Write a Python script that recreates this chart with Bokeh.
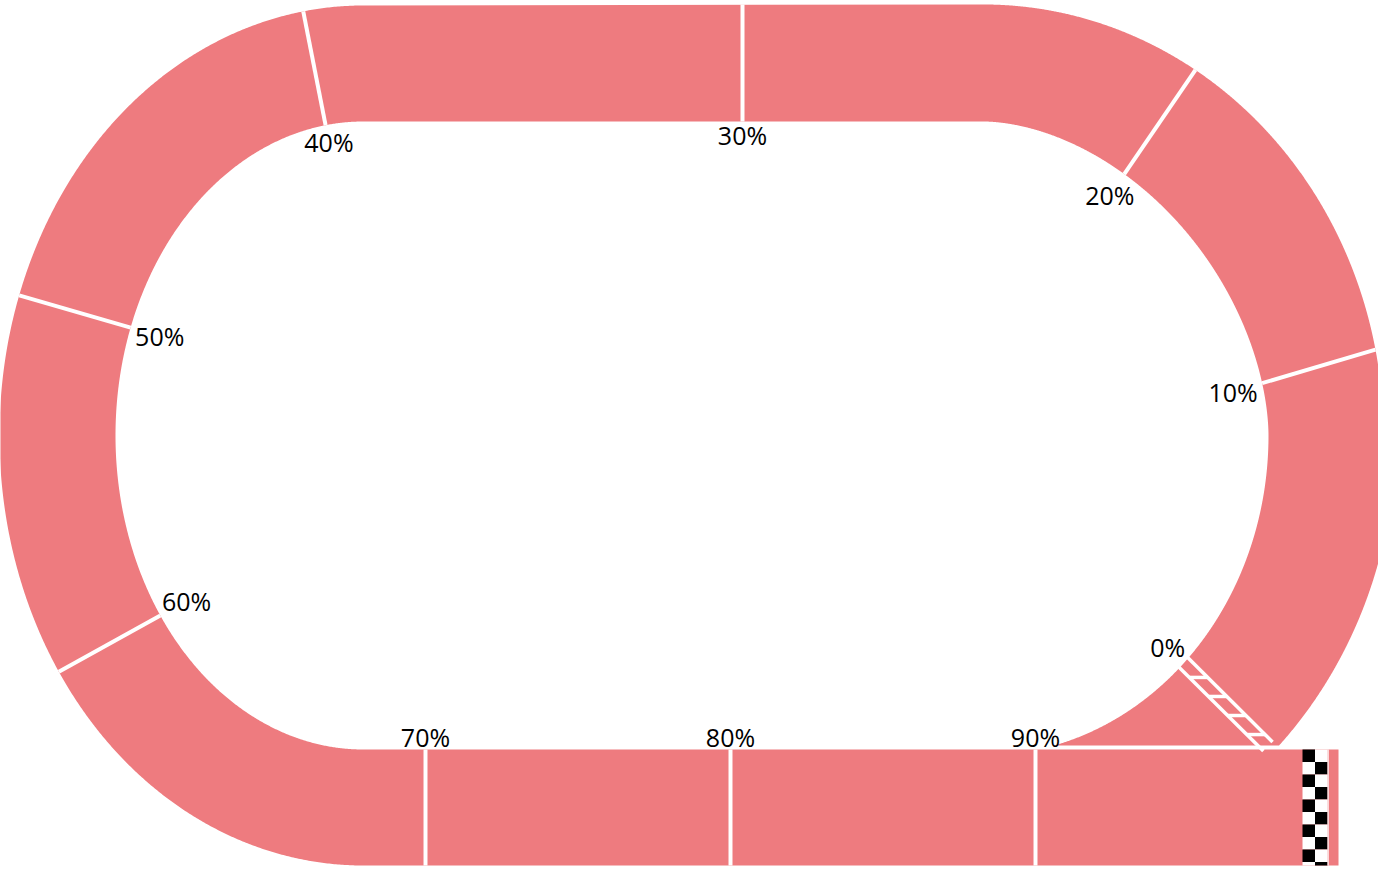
import numpy as np
from bokeh.plotting import figure
from bokeh.models import Range1d, ColumnDataSource
from bokeh.core.properties import value
from bokeh.embed import file_html
from bokeh.resources import INLINE

# ---------------- data ----------------
tick_values = [0, 10, 20, 30, 40, 50, 60, 70, 80, 90]
tick_labels = ["0%", "10%", "20%", "30%", "40%", "50%", "60%", "70%", "80%", "90%"]

# ---------------- track geometry (y grows downward) ----------------
W, H = 1378, 874
TRACK = "#EE7B7F"
FONT = "Open Sans"
FS = 25

LC = (363.0, 435.0); LA, LB = 248.0, 314.0; OFF = 116.0          # left bend
RC = (983.0, 435.0)                                              # right bend centre
RA_IN, RB_IN_UP, RB_IN_LO, RN = 285.0, 314.0, 320.0, 1.8         # right bend, inner
RA_OUT_UP, RB_OUT_UP, RA_OUT_LO, RB_OUT_LO = 400.0, 431.0, 412.0, 445.0  # right bend, outer
TOP_IN, TOP_OUT = 121.0, 4.0
BOT_IN, BOT_OUT = 749.0, 865.0
CUT_Y = 745.0
END_X = 1338.0
FIN_X0, SQ = 1302.0, 12.5

# where each 10 % marker sits on the track (bend angle in degrees, or x on a straight)
MARKER_STATIONS = {0: ("R", -45.3), 10: ("R", 11.5), 20: ("R", 58.0), 30: ("T", 742.0),
                   40: ("L", 98.8), 50: ("L", 159.9), 60: ("L", 215.0),
                   70: ("B", 425.0), 80: ("B", 730.0), 90: ("B", 1035.0)}


def sgnpow(v, e):
    return np.sign(v) * np.abs(v) ** e


def left_inner(phi):
    t = np.radians(phi)
    return LC[0] + LA * np.cos(t), LC[1] - LB * np.sin(t)


def left_outer(phi):
    t = np.radians(phi)
    x, y = left_inner(phi)
    nx, ny = np.cos(t) / LA, -np.sin(t) / LB
    n = np.hypot(nx, ny)
    return x + OFF * nx / n, y + OFF * ny / n


def right_inner(th):
    th = np.asarray(th, dtype=float)
    t = np.radians(th)
    c, s = np.cos(t), np.sin(t)
    up = th >= 0
    x = np.where(up, RC[0] + RA_IN * sgnpow(c, 2 / RN), RC[0] + RA_IN * c)
    y = np.where(up, RC[1] - RB_IN_UP * sgnpow(s, 2 / RN), RC[1] - RB_IN_LO * s)
    return x, y


def right_outer(th):
    th = np.asarray(th, dtype=float)
    t = np.radians(th)
    up = th >= 0
    a = np.where(up, RA_OUT_UP, RA_OUT_LO)
    b = np.where(up, RB_OUT_UP, RB_OUT_LO)
    return RC[0] + a * np.cos(t), RC[1] - b * np.sin(t)


def station(pct):
    seg, prm = MARKER_STATIONS[pct]
    if seg == "R":
        return right_inner(prm), right_outer(prm)
    if seg == "L":
        return left_inner(prm), left_outer(prm)
    if seg == "T":
        return (prm, TOP_IN), (prm, TOP_OUT)
    return (prm, BOT_IN), (prm, BOT_OUT)


def crossing(xs, ys, yc):
    k = int(np.argmax(ys <= yc))
    t = (yc - ys[k - 1]) / (ys[k] - ys[k - 1])
    return k, xs[k - 1] + t * (xs[k] - xs[k - 1])


# ---------------- track polygon ----------------
th = np.linspace(-90, 90, 1441)
xi, yi = right_inner(th)
xo, yo = right_outer(th)
k_in, x_in = crossing(xi, yi, CUT_Y)
k_out, x_out = crossing(xo, yo, CUT_Y)
phi_in = np.linspace(90, 270, 721)
lxi, lyi = left_inner(phi_in)
phi_out = np.linspace(270, 90, 721)
lxo, lyo = left_outer(phi_out)

px = ([x_in] + list(xi[k_in:]) + list(lxi) + [END_X, END_X] + list(lxo)
      + list(xo[k_out:][::-1]) + [x_out])
py = ([CUT_Y] + list(yi[k_in:]) + list(lyi) + [BOT_IN, BOT_OUT] + list(lyo)
      + list(yo[k_out:][::-1]) + [CUT_Y])

p = figure(width=W, height=H, x_range=Range1d(0, W), y_range=Range1d(H, 0),
           output_backend="svg", toolbar_location=None, min_border=0)
p.axis.visible = False
p.grid.visible = False
p.outline_line_color = None
p.background_fill_color = "white"
p.border_fill_color = "white"

p.patch(px, py, fill_color=TRACK, line_color=None)

# ---------------- markers ----------------
seg_src = dict(x0=[], y0=[], x1=[], y1=[])
lab_src = dict(x=[], y=[], text=[])
for v, lab in zip(tick_values, tick_labels):
    (ax, ay), (bx, by) = station(v)
    ax, ay, bx, by = float(ax), float(ay), float(bx), float(by)
    if v != 0:
        seg_src["x0"].append(ax); seg_src["y0"].append(ay)
        seg_src["x1"].append(bx); seg_src["y1"].append(by)
    else:
        # start line: two rails with slanted rungs, stopping at the gap above the straight
        if by > CUT_Y + 1:
            f = (CUT_Y + 1 - ay) / (by - ay)
            bx, by = ax + f * (bx - ax), ay + f * (by - ay)
        L = np.hypot(bx - ax, by - ay)
        dx, dy = (bx - ax) / L, (by - ay) / L
        nx, ny = -dy, dx
        g = 6.5
        rx0, ry0, rx1, ry1 = [], [], [], []
        for sgn in (1, -1):
            rx0.append(ax + sgn * g * nx - 3 * dx); ry0.append(ay + sgn * g * ny - 3 * dy)
            rx1.append(bx + sgn * g * nx); ry1.append(by + sgn * g * ny)
        delta = 2 * g * ny / dy
        for s in np.arange(14, L - 14, 27):
            rx0.append(ax + s * dx + g * nx); ry0.append(ay + s * dy + g * ny)
            rx1.append(ax + (s + delta) * dx - g * nx); ry1.append(ay + (s + delta) * dy - g * ny)
        p.segment(rx0, ry0, rx1, ry1, line_color="white", line_width=3.5, line_cap="butt")
    # label just inside the infield
    ux, uy = ax - bx, ay - by
    n = np.hypot(ux, uy)
    ux, uy = ux / n, uy / n
    w = FS * (0.572 * (len(lab) - 1) + 0.84)
    h = FS * 0.72
    d = 4 + abs(ux) * w / 2 + abs(uy) * h / 2
    lab_src["x"].append(ax + ux * d)
    lab_src["y"].append(ay + uy * d)
    lab_src["text"].append(lab)

p.segment("x0", "y0", "x1", "y1", source=ColumnDataSource(seg_src),
          line_color="white", line_width=4, line_cap="butt")

p.text("x", "y", "text", source=ColumnDataSource(lab_src), text_align="center",
       text_baseline="middle", text_font=value(FONT), text_font_size=f"{FS}px",
       text_color="black")

# ---------------- chequered finish ----------------
ql, qr, qt, qb, qc = [], [], [], [], []
nrows = int(np.ceil((BOT_OUT - BOT_IN) / SQ))
for r in range(nrows):
    for c in range(2):
        ql.append(FIN_X0 + c * SQ); qr.append(FIN_X0 + (c + 1) * SQ)
        qt.append(BOT_IN + r * SQ); qb.append(min(BOT_IN + (r + 1) * SQ, BOT_OUT))
        qc.append("black" if (r + c) % 2 == 0 else "white")
p.quad(left=ql, right=qr, top=qt, bottom=qb, fill_color=qc, line_color=None)
p.segment([FIN_X0 + 2 * SQ + 0.6], [BOT_IN], [FIN_X0 + 2 * SQ + 0.6], [BOT_OUT],
          line_color="white", line_width=1.2)

open("out.html", "w").write(file_html(p, INLINE))
